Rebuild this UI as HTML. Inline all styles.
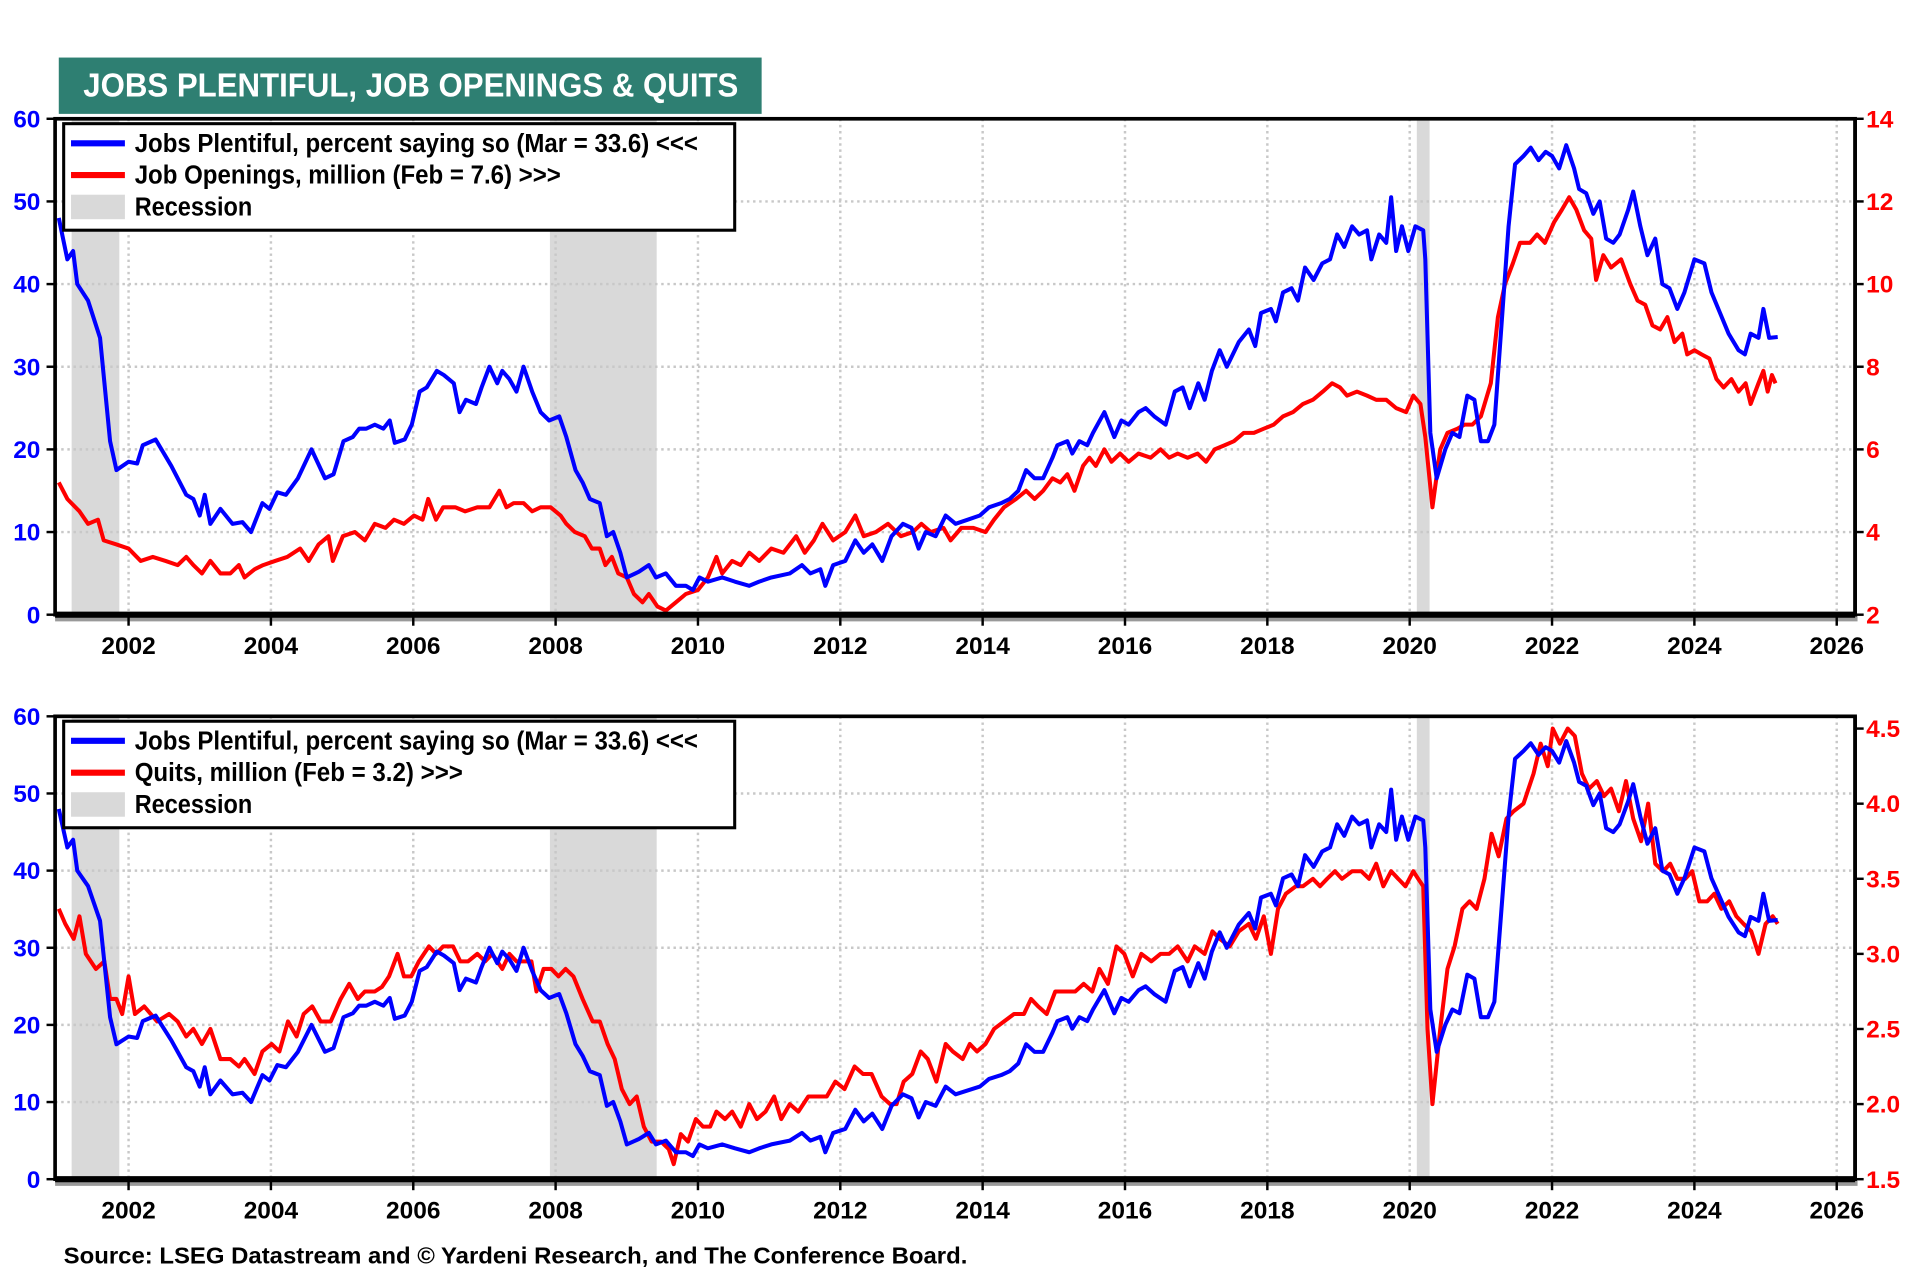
<!DOCTYPE html>
<html><head><meta charset="utf-8"><style>
html,body{margin:0;padding:0;background:#fff;}
svg{display:block;}
text{font-family:"Liberation Sans Narrow","Liberation Sans",sans-serif;font-weight:bold;}
</style></head><body>
<svg id="chart" xmlns="http://www.w3.org/2000/svg" width="1920" height="1280" viewBox="0 0 1568 1045.33">
<rect x="0" y="0" width="1568" height="1046" fill="#fff"/>
<g>
<rect x="48" y="47" width="574" height="46" fill="#2e7f72"/>
<text x="68" y="79" fill="#fff" font-size="27" textLength="535" lengthAdjust="spacingAndGlyphs">JOBS PLENTIFUL, JOB OPENINGS &amp; QUITS</text>
</g>
<g id="p1"></g>
<g id="p2"></g>
<text x="52" y="1032" font-size="19" fill="#000" textLength="738" lengthAdjust="spacingAndGlyphs">Source: LSEG Datastream and © Yardeni Research, and The Conference Board.</text>
</svg>
<script>
const xYears=[2002,2004,2006,2008,2010,2012,2014,2016,2018,2020,2022,2024,2026];
const recessions=[[2001.2,2001.87],[2007.92,2009.42],[2020.1,2020.28]];
const leftTicks=[0,10,20,30,40,50,60];
const openTicks=[2,4,6,8,10,12,14];
const quitTicks=[1.5,2.0,2.5,3.0,3.5,4.0,4.5];
const plentyDates=[2001.02,2001.14,2001.22,2001.28,2001.43,2001.6,2001.74,2001.83,2002.0,2002.12,2002.2,2002.38,2002.6,2002.81,2002.91,2003.0,2003.07,2003.15,2003.29,2003.46,2003.6,2003.72,2003.88,2003.98,2004.09,2004.21,2004.38,2004.57,2004.76,2004.88,2005.02,2005.15,2005.24,2005.34,2005.46,2005.58,2005.67,2005.74,2005.88,2005.98,2006.09,2006.19,2006.33,2006.43,2006.57,2006.65,2006.74,2006.88,2006.96,2007.07,2007.18,2007.25,2007.35,2007.45,2007.55,2007.67,2007.79,2007.91,2008.05,2008.15,2008.28,2008.38,2008.48,2008.62,2008.72,2008.81,2008.91,2009.0,2009.17,2009.31,2009.41,2009.55,2009.69,2009.83,2009.93,2010.02,2010.14,2010.34,2010.52,2010.72,2010.86,2011.03,2011.29,2011.46,2011.58,2011.72,2011.79,2011.9,2012.07,2012.21,2012.33,2012.45,2012.59,2012.72,2012.88,2013.0,2013.1,2013.2,2013.34,2013.48,2013.62,2013.79,2013.96,2014.09,2014.26,2014.38,2014.5,2014.61,2014.73,2014.85,2014.98,2015.05,2015.19,2015.26,2015.36,2015.47,2015.55,2015.71,2015.85,2015.95,2016.05,2016.19,2016.29,2016.41,2016.57,2016.7,2016.81,2016.91,2017.03,2017.12,2017.22,2017.33,2017.43,2017.6,2017.74,2017.83,2017.91,2018.05,2018.12,2018.22,2018.34,2018.43,2018.53,2018.65,2018.77,2018.88,2018.98,2019.08,2019.19,2019.29,2019.4,2019.46,2019.57,2019.67,2019.74,2019.81,2019.89,2019.98,2020.08,2020.19,2020.22,2020.29,2020.38,2020.5,2020.6,2020.7,2020.81,2020.91,2021.0,2021.1,2021.19,2021.29,2021.39,2021.48,2021.6,2021.7,2021.81,2021.91,2022.0,2022.1,2022.2,2022.31,2022.38,2022.48,2022.58,2022.67,2022.76,2022.86,2022.95,2023.07,2023.14,2023.24,2023.34,2023.45,2023.55,2023.65,2023.76,2023.86,2024.0,2024.14,2024.24,2024.36,2024.48,2024.62,2024.71,2024.79,2024.9,2024.97,2025.05,2025.17];
const plentyValues=[48,43,44,40,38,33.5,21,17.5,18.5,18.3,20.5,21.2,18,14.5,14,12,14.5,11,12.8,11,11.2,10,13.5,12.8,14.8,14.5,16.5,20,16.5,17,21,21.5,22.5,22.5,23,22.5,23.5,20.8,21.2,23,27,27.5,29.5,29,28,24.5,26,25.5,27.5,30,28,29.5,28.5,27,30,27,24.5,23.5,24,21.5,17.5,16,14,13.5,9.5,10,7.5,4.5,5.2,6,4.5,5,3.5,3.5,3,4.5,4,4.5,4,3.5,4,4.5,5,6,5,5.5,3.5,6,6.5,9,7.5,8.5,6.5,9.5,11,10.5,8,10,9.5,12,11,11.5,12,13,13.5,14,15,17.5,16.5,16.5,19,20.5,21,19.5,21,20.5,22,24.5,21.5,23.5,23,24.5,25,24,23,27,27.5,25,28,26,29.5,32,30,33,34.5,32.5,36.5,37,35.5,39,39.5,38,42,40.5,42.5,43,46,44.5,47,46,46.5,43,46,45,50.5,44,47,44,47,46.5,43,22,16.5,20,22,21.5,26.5,26,21,21,23,35,47,54.5,55.5,56.5,55,56,55.5,54,56.8,54,51.5,51,48.5,50,45.5,45,46,49,51.2,47,43.5,45.5,40,39.5,37,39,43,42.5,39,36.5,34,32,31.5,34,33.5,37,33.5,33.6];
const openDates=[2001.02,2001.14,2001.31,2001.43,2001.57,2001.65,2001.83,2002.0,2002.17,2002.34,2002.52,2002.69,2002.81,2002.91,2003.03,2003.15,2003.29,2003.43,2003.55,2003.63,2003.77,2003.89,2004.06,2004.23,2004.41,2004.53,2004.67,2004.81,2004.87,2005.01,2005.18,2005.32,2005.46,2005.61,2005.73,2005.87,2006.01,2006.13,2006.21,2006.32,2006.42,2006.59,2006.73,2006.9,2007.07,2007.21,2007.31,2007.41,2007.55,2007.67,2007.79,2007.93,2008.07,2008.15,2008.27,2008.41,2008.51,2008.62,2008.7,2008.79,2008.88,2009.0,2009.1,2009.22,2009.31,2009.43,2009.55,2009.69,2009.83,2010.0,2010.14,2010.26,2010.34,2010.48,2010.6,2010.72,2010.86,2011.03,2011.2,2011.38,2011.5,2011.63,2011.75,2011.9,2012.07,2012.21,2012.33,2012.5,2012.67,2012.85,2013.02,2013.14,2013.27,2013.45,2013.55,2013.7,2013.87,2014.04,2014.16,2014.3,2014.47,2014.61,2014.73,2014.85,2014.98,2015.09,2015.19,2015.29,2015.41,2015.5,2015.59,2015.71,2015.81,2015.93,2016.05,2016.19,2016.36,2016.5,2016.62,2016.74,2016.88,2017.02,2017.14,2017.26,2017.4,2017.53,2017.67,2017.81,2017.95,2018.09,2018.22,2018.36,2018.5,2018.64,2018.78,2018.91,2019.02,2019.12,2019.26,2019.4,2019.53,2019.67,2019.81,2019.95,2020.05,2020.15,2020.22,2020.32,2020.43,2020.53,2020.67,2020.77,2020.88,2021.0,2021.14,2021.24,2021.34,2021.45,2021.55,2021.69,2021.79,2021.9,2022.03,2022.14,2022.24,2022.34,2022.45,2022.55,2022.62,2022.72,2022.83,2022.97,2023.1,2023.2,2023.31,2023.41,2023.52,2023.62,2023.72,2023.83,2023.9,2024.0,2024.1,2024.21,2024.31,2024.41,2024.52,2024.62,2024.72,2024.79,2024.9,2024.97,2025.03,2025.09,2025.14];
const openValues=[5.2,4.8,4.5,4.2,4.3,3.8,3.7,3.6,3.3,3.4,3.3,3.2,3.4,3.2,3.0,3.3,3.0,3.0,3.2,2.9,3.1,3.2,3.3,3.4,3.6,3.3,3.7,3.9,3.3,3.9,4.0,3.8,4.2,4.1,4.3,4.2,4.4,4.3,4.8,4.3,4.6,4.6,4.5,4.6,4.6,5.0,4.6,4.7,4.7,4.5,4.6,4.6,4.4,4.2,4.0,3.9,3.6,3.6,3.2,3.4,3.0,2.9,2.5,2.3,2.5,2.2,2.1,2.3,2.5,2.6,2.9,3.4,3.0,3.3,3.2,3.5,3.3,3.6,3.5,3.9,3.5,3.8,4.2,3.8,4.0,4.4,3.9,4.0,4.2,3.9,4.0,4.2,4.0,4.1,3.8,4.1,4.1,4.0,4.3,4.6,4.8,5.0,4.8,5.0,5.3,5.2,5.4,5.0,5.6,5.8,5.6,6.0,5.7,5.9,5.7,5.9,5.8,6.0,5.8,5.9,5.8,5.9,5.7,6.0,6.1,6.2,6.4,6.4,6.5,6.6,6.8,6.9,7.1,7.2,7.4,7.6,7.5,7.3,7.4,7.3,7.2,7.2,7.0,6.9,7.3,7.1,6.3,4.6,6.0,6.4,6.5,6.6,6.6,6.8,7.6,9.2,10.0,10.5,11.0,11.0,11.2,11.0,11.5,11.8,12.1,11.8,11.3,11.1,10.1,10.7,10.4,10.6,10.0,9.6,9.5,9.0,8.9,9.2,8.6,8.8,8.3,8.4,8.3,8.2,7.7,7.5,7.7,7.4,7.6,7.1,7.6,7.9,7.4,7.8,7.6];
const quitDates=[2001.02,2001.11,2001.23,2001.31,2001.4,2001.54,2001.66,2001.74,2001.83,2001.91,2002.0,2002.09,2002.22,2002.4,2002.57,2002.69,2002.81,2002.91,2003.03,2003.15,2003.29,2003.43,2003.55,2003.63,2003.77,2003.88,2004.01,2004.12,2004.24,2004.36,2004.46,2004.58,2004.7,2004.84,2004.98,2005.1,2005.22,2005.32,2005.46,2005.56,2005.66,2005.78,2005.87,2005.97,2006.08,2006.22,2006.32,2006.42,2006.56,2006.66,2006.77,2006.9,2007.01,2007.11,2007.25,2007.35,2007.45,2007.56,2007.66,2007.73,2007.83,2007.94,2008.04,2008.14,2008.25,2008.38,2008.52,2008.62,2008.73,2008.83,2008.93,2009.04,2009.14,2009.24,2009.35,2009.48,2009.59,2009.66,2009.76,2009.86,2009.97,2010.07,2010.17,2010.26,2010.38,2010.48,2010.6,2010.72,2010.83,2010.95,2011.07,2011.17,2011.29,2011.41,2011.55,2011.69,2011.81,2011.93,2012.06,2012.2,2012.32,2012.44,2012.58,2012.7,2012.79,2012.89,2013.01,2013.13,2013.23,2013.35,2013.48,2013.58,2013.72,2013.82,2013.92,2014.04,2014.16,2014.3,2014.44,2014.58,2014.68,2014.78,2014.9,2015.02,2015.16,2015.3,2015.42,2015.54,2015.64,2015.76,2015.88,2015.99,2016.11,2016.23,2016.37,2016.5,2016.62,2016.74,2016.88,2016.98,2017.12,2017.23,2017.33,2017.47,2017.6,2017.74,2017.84,2017.95,2018.05,2018.15,2018.26,2018.4,2018.5,2018.64,2018.74,2018.84,2018.95,2019.05,2019.19,2019.32,2019.43,2019.53,2019.63,2019.74,2019.84,2019.94,2020.05,2020.12,2020.19,2020.25,2020.32,2020.43,2020.53,2020.63,2020.74,2020.84,2020.94,2021.05,2021.15,2021.25,2021.36,2021.46,2021.6,2021.74,2021.84,2021.94,2022.01,2022.11,2022.22,2022.32,2022.42,2022.52,2022.63,2022.73,2022.83,2022.94,2023.04,2023.14,2023.25,2023.35,2023.45,2023.56,2023.66,2023.76,2023.87,2023.97,2024.07,2024.18,2024.28,2024.38,2024.49,2024.59,2024.69,2024.8,2024.9,2025.0,2025.1,2025.17];
const quitValues=[3.3,3.2,3.1,3.25,3.0,2.9,2.95,2.7,2.7,2.6,2.85,2.6,2.65,2.55,2.6,2.55,2.45,2.5,2.4,2.5,2.3,2.3,2.25,2.3,2.2,2.35,2.4,2.35,2.55,2.45,2.6,2.65,2.55,2.55,2.7,2.8,2.7,2.75,2.75,2.78,2.85,3.0,2.85,2.85,2.95,3.05,3.0,3.05,3.05,2.95,2.95,3.0,2.95,3.0,2.9,3.0,2.95,2.95,2.95,2.75,2.9,2.9,2.85,2.9,2.85,2.7,2.55,2.55,2.4,2.3,2.1,2.0,2.05,1.85,1.75,1.75,1.7,1.6,1.8,1.75,1.9,1.85,1.85,1.95,1.9,1.95,1.85,2.0,1.9,1.95,2.05,1.9,2.0,1.95,2.05,2.05,2.05,2.15,2.1,2.25,2.2,2.2,2.05,2.0,2.0,2.15,2.2,2.35,2.3,2.15,2.4,2.35,2.3,2.4,2.35,2.4,2.5,2.55,2.6,2.6,2.7,2.65,2.6,2.75,2.75,2.75,2.8,2.75,2.9,2.8,3.05,3.0,2.85,3.0,2.95,3.0,3.0,3.05,2.95,3.05,3.0,3.15,3.1,3.05,3.15,3.2,3.1,3.25,3.0,3.3,3.4,3.45,3.45,3.5,3.45,3.5,3.55,3.5,3.55,3.55,3.5,3.6,3.45,3.55,3.5,3.45,3.55,3.5,3.45,2.5,2.0,2.5,2.9,3.05,3.3,3.35,3.3,3.5,3.8,3.65,3.9,3.95,4.0,4.2,4.4,4.25,4.5,4.4,4.5,4.45,4.2,4.1,4.15,4.05,4.1,3.95,4.15,3.9,3.75,4.0,3.6,3.55,3.6,3.5,3.5,3.55,3.35,3.35,3.4,3.3,3.35,3.25,3.2,3.15,3.0,3.2,3.25,3.2];

const NS="http://www.w3.org/2000/svg";
const X0=45,X1=1515,Y0=2001.0,PPY=58.125;
function xs(y){return 105+(y-2002)*PPY;}
function mk(tag,attrs,parent){const e=document.createElementNS(NS,tag);for(const k in attrs)e.setAttribute(k,attrs[k]);parent.appendChild(e);return e;}

function panel(g,top,bot,lMin,lMax,rMin,rMax,rTicks,rFmt,rTop,rData,rDates,rName,legendRed){
  const ly=v=>bot-(v-lMin)/(lMax-lMin)*(bot-top);
  const ry=v=>bot-(v-rMin)/(rMax-rMin)*(bot-rTop);
  // recessions
  for(const r of recessions){
    const e=mk('rect',{x:xs(r[0]),y:top,width:xs(r[1])-xs(r[0]),height:bot-top,fill:'#d9d9d9'},g);
    
    
  }
  // grid
  for(const t of leftTicks){ if(t===lMin||t===lMax) continue;
    const e=mk('line',{x1:X0,x2:X1,y1:ly(t),y2:ly(t),stroke:'#c8c8c8','stroke-width':2,'stroke-dasharray':'2 3'},g);
    
    
  }
  for(const yr of xYears){
    const e=mk('line',{x1:xs(yr),x2:xs(yr),y1:top,y2:bot,stroke:'#c8c8c8','stroke-width':2,'stroke-dasharray':'2 3'},g);
    
    
  }
  // series
  const bp=plentyDates.map((d,i)=>xs(d).toFixed(1)+','+ly(plentyValues[i]).toFixed(1)).join(' ');
  const rp=rDates.map((d,i)=>xs(d).toFixed(1)+','+ry(rData[i]).toFixed(1)).join(' ');
  const red=mk('polyline',{points:rp,fill:'none',stroke:'#ff0000','stroke-width':3.3,'stroke-linejoin':'round'},g);
  
  
  const blue=mk('polyline',{points:bp,fill:'none',stroke:'#0000ff','stroke-width':3.3,'stroke-linejoin':'round'},g);
  
  
  // frame
  mk('line',{x1:X0,x2:X1+2,y1:bot+3,y2:bot+3,stroke:'#999','stroke-width':5},g);
  const fr=mk('rect',{x:X0,y:top,width:X1-X0,height:bot-top,fill:'none',stroke:'#000','stroke-width':3},g);
  
  
  mk('line',{x1:X0,x2:X1,y1:bot,y2:bot,stroke:'#000','stroke-width':5},g);
  mk('line',{x1:X1,x2:X1,y1:top,y2:bot,stroke:'#000','stroke-width':3},g);
  // left ticks
  for(const t of leftTicks){
    mk('line',{x1:X0-7,x2:X0,y1:ly(t),y2:ly(t),stroke:'#000','stroke-width':2},g);
    const e=mk('text',{x:X0-12,y:ly(t)+7,'text-anchor':'end','font-size':20,fill:'#0000ff'},g);
    e.textContent=t;
    
    
  }
  for(const t of rTicks){
    mk('line',{x1:X1,x2:X1+7,y1:ry(t),y2:ry(t),stroke:'#000','stroke-width':2},g);
    const e=mk('text',{x:X1+9,y:ry(t)+7,'font-size':20,fill:'#ff0000'},g);
    e.textContent=rFmt(t);
    
    
  }
  for(const yr of xYears){
    mk('line',{x1:xs(yr),x2:xs(yr),y1:bot,y2:bot+9,stroke:'#000','stroke-width':2},g);
    const e=mk('text',{x:xs(yr),y:bot+32,'text-anchor':'middle','font-size':20,fill:'#000'},g);
    e.textContent=yr;
    
    
  }
  // legend
  const lg=mk('g',{},g);
  
  
  const L=top+4;
  mk('rect',{x:52,y:L,width:548,height:87,fill:'#fff',stroke:'#000','stroke-width':2.5},lg);
  mk('line',{x1:58,x2:102,y1:L+16,y2:L+16,stroke:'#0000ff','stroke-width':5},lg);
  mk('line',{x1:58,x2:102,y1:L+42,y2:L+42,stroke:'#ff0000','stroke-width':5},lg);
  mk('rect',{x:58,y:L+58,width:44,height:20,fill:'#d9d9d9'},lg);
  const t1=mk('text',{x:110,y:L+23,'font-size':21,fill:'#000',textLength:460,lengthAdjust:'spacingAndGlyphs'},lg);
  t1.textContent='Jobs Plentiful, percent saying so (Mar = 33.6) <<<';
  
  
  const t2=mk('text',{x:110,y:L+49,'font-size':21,fill:'#000',textLength:legendRed[1],lengthAdjust:'spacingAndGlyphs'},lg);
  t2.textContent=legendRed[0];
  
  
  const t3=mk('text',{x:110,y:L+75,'font-size':21,fill:'#000',textLength:96,lengthAdjust:'spacingAndGlyphs'},lg);
  t3.textContent='Recession';
  
  
}
panel(document.getElementById('p1'),97,502,0,60,2,14,openTicks,v=>v,97,openValues,openDates,'job-openings-line',['Job Openings, million (Feb = 7.6) >>>',348]);
panel(document.getElementById('p2'),585,963,0,60,1.5,4.5,quitTicks,v=>v.toFixed(1),595,quitValues,quitDates,'quits-line',['Quits, million (Feb = 3.2) >>>',268]);
</script>
</body></html>
